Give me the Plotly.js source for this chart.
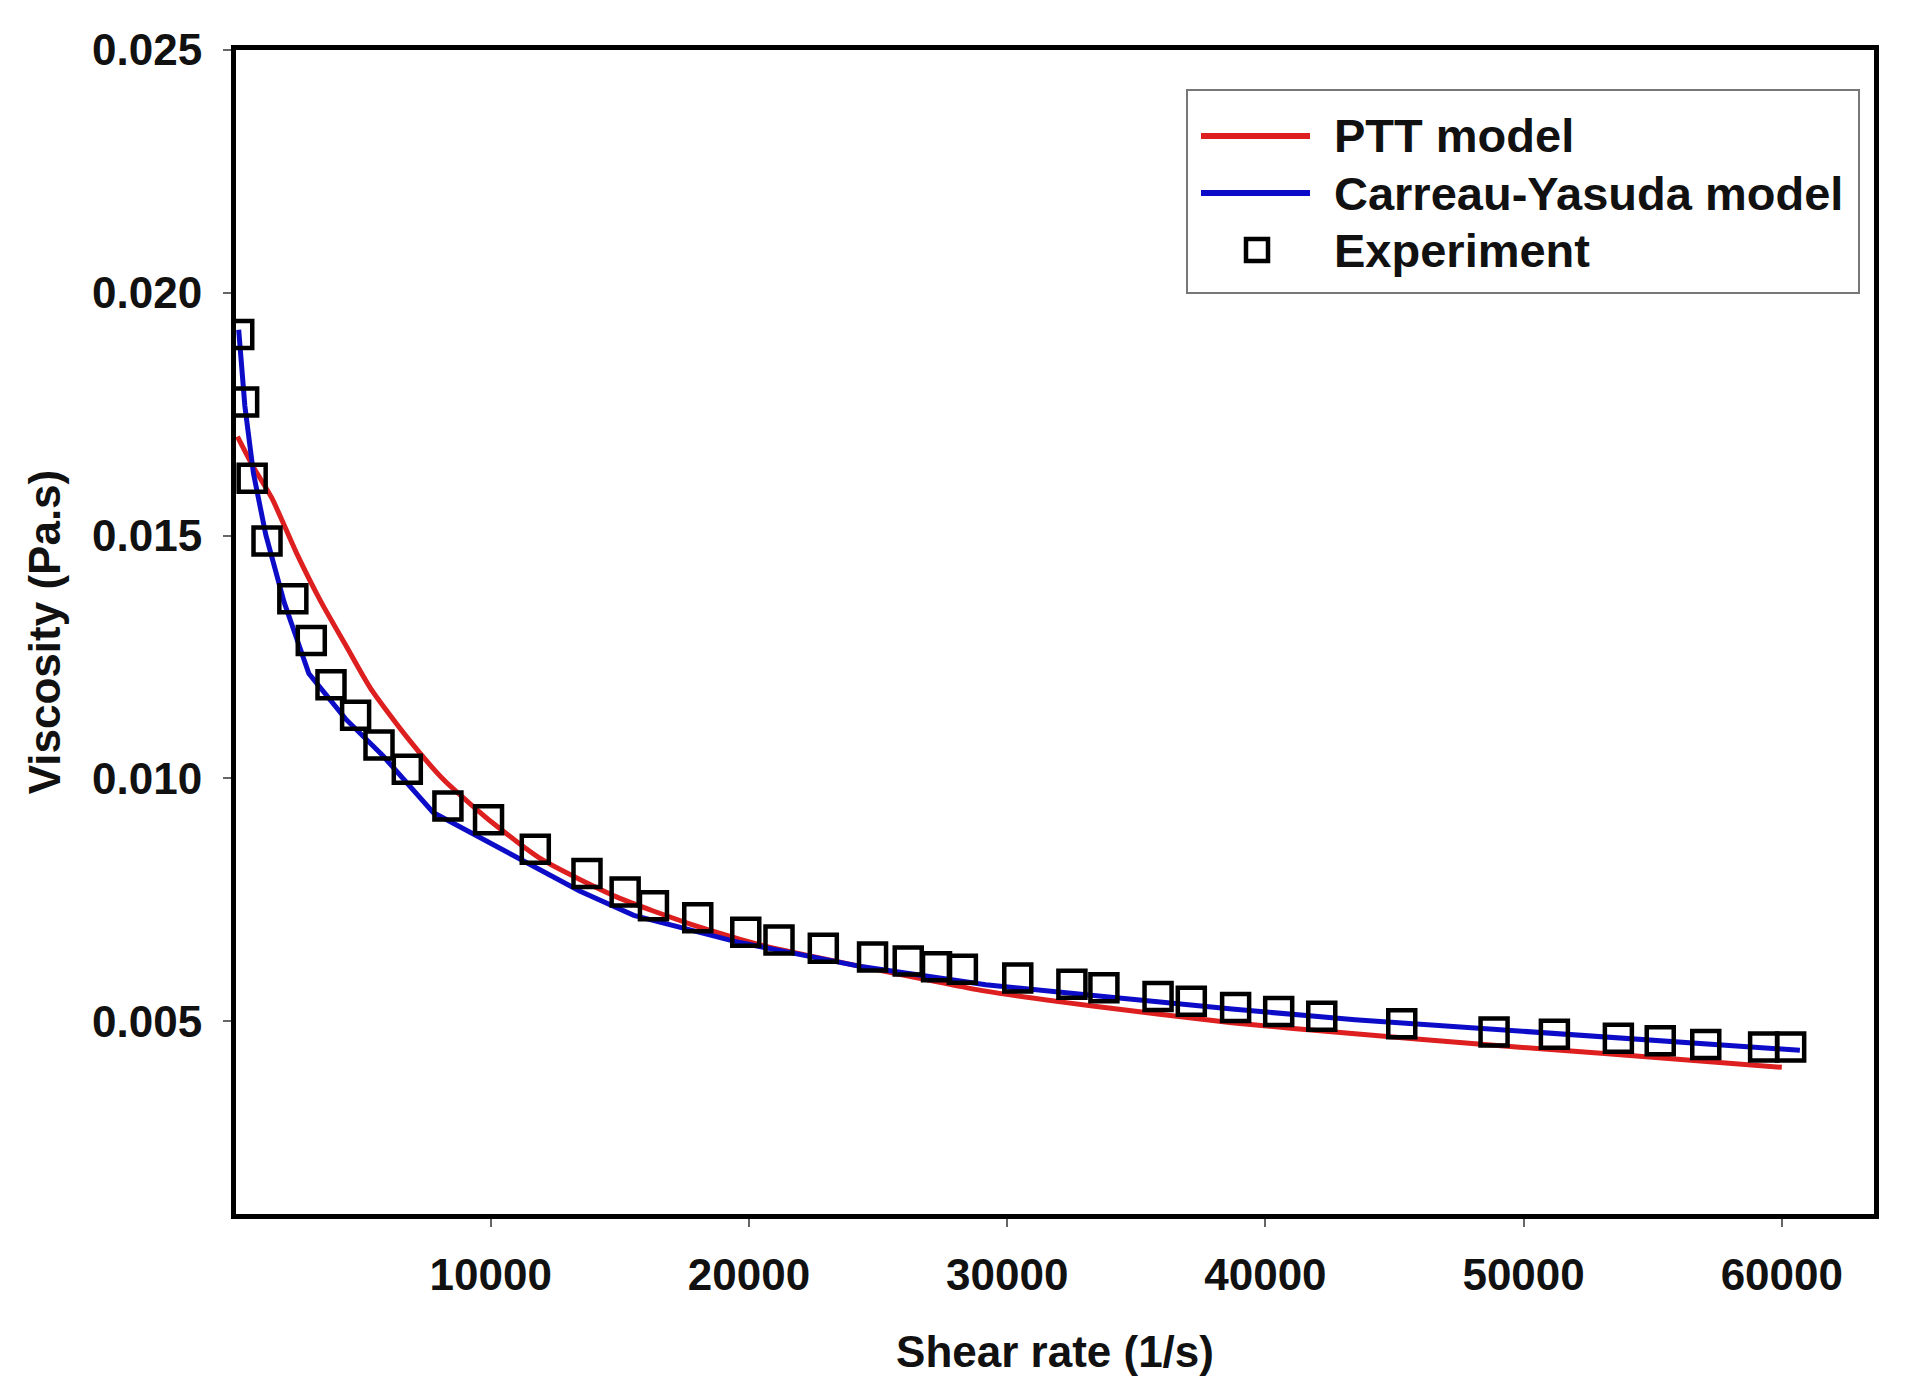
<!DOCTYPE html>
<html>
<head>
<meta charset="utf-8">
<script src="https://cdn.plot.ly/plotly-3.0.1.min.js"></script>
<style>
  html, body { margin: 0; padding: 0; background: #fff; }
  #chart { width: 1932px; height: 1391px; }
</style>
</head>
<body>
<div id="chart"></div>
<script>
// Experimental viscosity data (shear rate in 1/s, viscosity in Pa.s)
const expShear = [240, 430, 760, 1335, 2335, 3050, 3813, 4766, 5672, 6768,
    8341, 9914, 11725, 13727, 15205, 16301, 18017, 19876, 21163, 22879,
    24786, 26168, 27264, 28265, 30410, 32507, 33746, 35843, 37131, 38847,
    40515, 42183, 45281, 48856, 51192, 53670, 55291, 57054, 59295, 60343];
const expVisc = [0.01914, 0.01775, 0.01618, 0.01489, 0.0137, 0.01284, 0.01193, 0.0113, 0.01069, 0.01019,
    0.00943, 0.00915, 0.00854, 0.00804, 0.00766, 0.00738, 0.00713, 0.00683, 0.00667, 0.0065,
    0.00632, 0.00624, 0.00612, 0.00607, 0.00589, 0.00576, 0.00569, 0.00551, 0.00541, 0.00528,
    0.0052, 0.0051, 0.00495, 0.00478, 0.00473, 0.00465, 0.0046, 0.00452, 0.00447, 0.00447];

// PTT model curve
const pttShear = [191, 810, 1525, 2479, 3432, 4385, 5338, 6768, 8198, 10105,
    12011, 14871, 17731, 20591, 24404, 29171, 33937, 38704, 43470, 48237, 53003, 60000];
const pttVisc = [0.01704, 0.01641, 0.01577, 0.01464, 0.01363, 0.01274, 0.01186, 0.01084, 0.00996, 0.00907,
    0.00832, 0.00756, 0.0070, 0.00655, 0.00612, 0.00562, 0.00527, 0.00497, 0.00474, 0.00453, 0.00434, 0.00405];

// Carreau-Yasuda model curve
const cyShear = [238, 477, 810, 1287, 2002, 2955, 4385, 5815, 7769, 11058,
    13441, 15539, 19638, 24404, 29171, 33937, 38704, 43470, 48237, 53003, 60700];
const cyVisc = [0.01924, 0.01767, 0.01628, 0.01502, 0.01362, 0.01216, 0.01122, 0.01047, 0.0093, 0.00837,
    0.00768, 0.00718, 0.00662, 0.00612, 0.00575, 0.0055, 0.00525, 0.00503, 0.00485, 0.00468, 0.0044];

const xTicks = [10000, 20000, 30000, 40000, 50000, 60000];
const yTicks = [0.005, 0.010, 0.015, 0.020, 0.025];
const legendNames = ['PTT model', 'Carreau-Yasuda model', 'Experiment'];

const W = 1932, H = 1391;
const margin = { l: 236, r: 58, t: 50, b: 177 };
const family = 'Liberation Sans, Arial, sans-serif';
const font = { family: family, size: 44, color: '#111', weight: 'bold' };

const red = '#dd1f1f';
const blue = '#0c0cc8';

// pixel -> paper helpers for the hand-placed legend box
const plotW = W - margin.l - margin.r;
const plotH = H - margin.t - margin.b;
const px = v => (v - margin.l) / plotW;
const py = v => 1 - (v - margin.t) / plotH;

const traces = [
    {
        x: pttShear, y: pttVisc,
        type: 'scatter', mode: 'lines',
        name: legendNames[0],
        line: { color: red, width: 5, shape: 'spline', smoothing: 0.6 }
    },
    {
        x: cyShear, y: cyVisc,
        type: 'scatter', mode: 'lines',
        name: legendNames[1],
        line: { color: blue, width: 5 }
    },
    {
        x: expShear, y: expVisc,
        type: 'scatter', mode: 'markers',
        name: legendNames[2],
        marker: { symbol: 'square-open', size: 27, color: '#000', line: { width: 4.5, color: '#000' } }
    }
];

// legend: box, two line samples, one square, three labels
const rowY = [136, 193, 250];
const shapes = [
    { type: 'rect', xref: 'paper', yref: 'paper', x0: px(1187), x1: px(1859), y0: py(90), y1: py(293),
      fillcolor: '#fff', line: { color: '#777', width: 2 }, layer: 'above' },
    { type: 'line', xref: 'paper', yref: 'paper', x0: px(1201), x1: px(1310), y0: py(rowY[0]), y1: py(rowY[0]),
      line: { color: red, width: 6 }, layer: 'above' },
    { type: 'line', xref: 'paper', yref: 'paper', x0: px(1201), x1: px(1310), y0: py(rowY[1]), y1: py(rowY[1]),
      line: { color: blue, width: 6 }, layer: 'above' },
    { type: 'rect', xref: 'paper', yref: 'paper', x0: px(1246), x1: px(1268), y0: py(rowY[2] - 11), y1: py(rowY[2] + 11),
      fillcolor: 'rgba(0,0,0,0)', line: { color: '#000', width: 4.5 }, layer: 'above' }
];
const annotations = legendNames.map((name, i) => ({
    xref: 'paper', yref: 'paper', x: px(1332), y: py(rowY[i]),
    xanchor: 'left', yanchor: 'middle', showarrow: false,
    text: name,
    font: { family: family, size: 47, color: '#111', weight: 'bold' }
}));

const layout = {
    width: W, height: H,
    paper_bgcolor: '#fff', plot_bgcolor: '#fff',
    margin: margin,
    font: font,
    showlegend: false,
    shapes: shapes,
    annotations: annotations,
    xaxis: {
        range: [134, 63570],
        tickvals: xTicks,
        tickformat: 'd',
        showgrid: false, zeroline: false,
        showline: true, linecolor: '#000', linewidth: 5, mirror: true,
        ticks: 'outside', ticklen: 8, tickwidth: 2, tickcolor: '#666',
        ticklabelstandoff: 10,
        tickfont: font,
        title: { text: 'Shear rate (1/s)', font: font, standoff: 40 }
    },
    yaxis: {
        range: [0.00103, 0.025],
        tickvals: yTicks,
        tickformat: '.3f',
        showgrid: false, zeroline: false,
        showline: true, linecolor: '#000', linewidth: 5, mirror: true,
        ticks: 'outside', ticklen: 8, tickwidth: 2, tickcolor: '#666',
        ticklabelstandoff: 12,
        tickfont: font,
        title: { text: 'Viscosity (Pa.s)', font: font, standoff: 19 }
    }
};

Plotly.newPlot('chart', traces, layout, { displayModeBar: false, responsive: false });
</script>
</body>
</html>
